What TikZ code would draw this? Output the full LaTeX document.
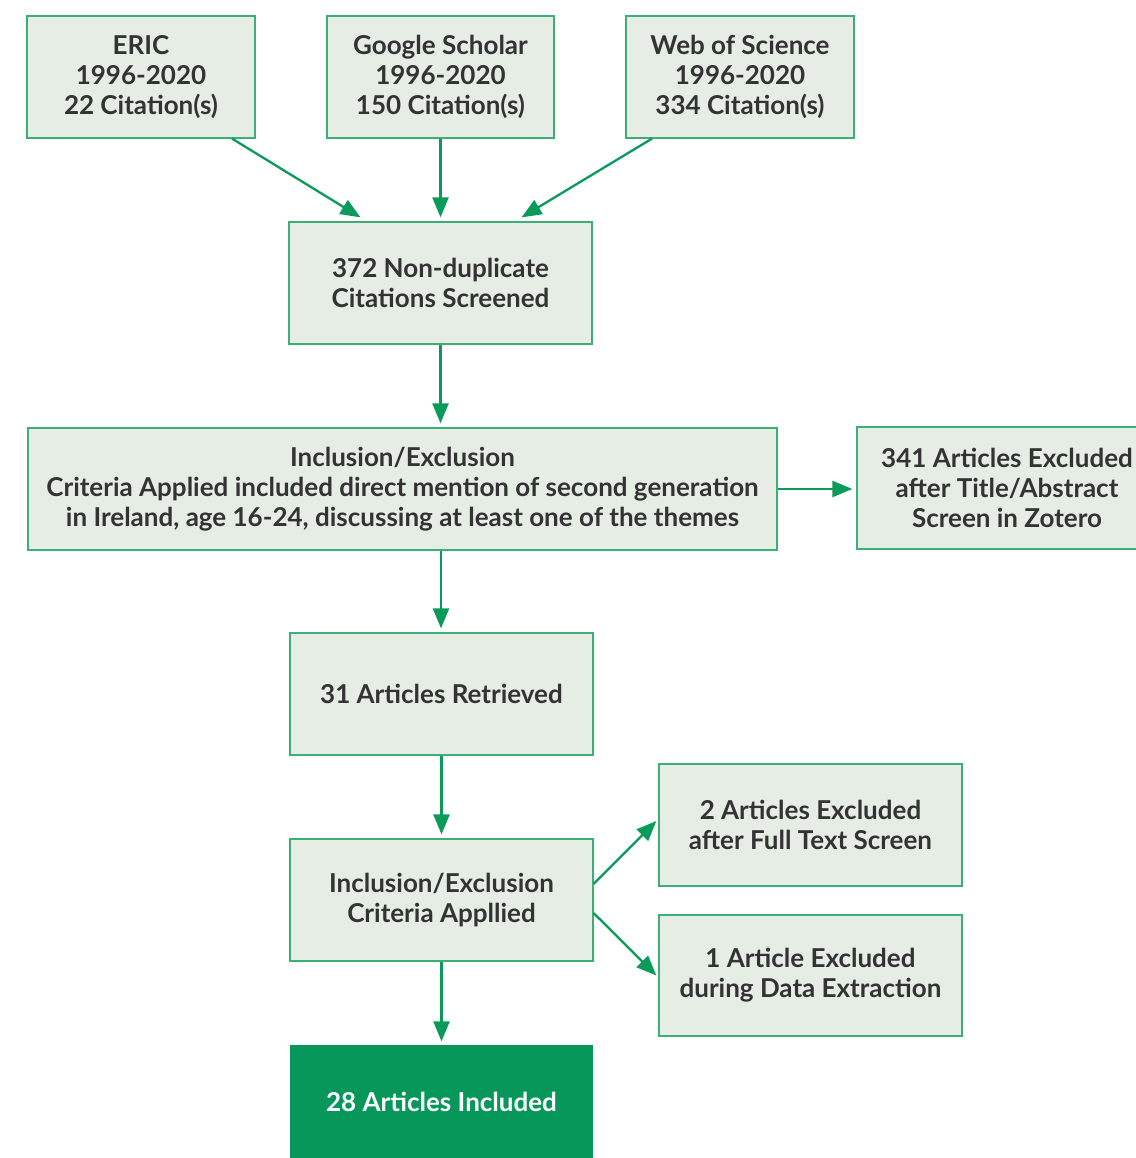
\documentclass[tikz,border=0pt]{standalone}
\usepackage{fontspec}
\setmainfont{Lato}
\usetikzlibrary{arrows.meta,calc}
\definecolor{boxfill}{HTML}{E5EDE5}
\definecolor{boxline}{HTML}{3DAE75}
\definecolor{arrowgreen}{HTML}{0A9A5A}
\definecolor{darkfill}{HTML}{08975A}
\definecolor{txt}{HTML}{333333}
\begin{document}
\begin{tikzpicture}[x=1pt,y=-1pt,
  box/.style={draw=boxline,fill=boxfill,line width=1.2pt,inner sep=0pt,align=center,
    text=txt,font=\fontsize{26}{30}\selectfont\bfseries},
  arr/.style={draw=arrowgreen,line width=2.3pt,-{Triangle[length=20pt,width=16pt]}}]
\useasboundingbox (0,0) rectangle (1135,1158);
\node[box,minimum width=228pt,minimum height=122pt] (eric) at (141,77) {ERIC\\1996-2020\\22 Citation(s)};
\node[box,minimum width=227pt,minimum height=122pt] (gs) at (440.5,77) {Google Scholar\\1996-2020\\150 Citation(s)};
\node[box,minimum width=228pt,minimum height=122pt] (wos) at (740,77) {Web of Science\\1996-2020\\334 Citation(s)};
\node[box,minimum width=303pt,minimum height=122pt] (scr) at (440.5,283) {372 Non-duplicate\\Citations Screened};
\node[box,minimum width=749pt,minimum height=122pt] (incl) at (402.5,489) {Inclusion/Exclusion\\Criteria Applied included direct mention of second generation\\in Ireland, age 16-24, discussing at least one of the themes};
\node[box,minimum width=300pt,minimum height=122pt] (exc1) at (1007,488) {341 Articles Excluded\\after Title/Abstract\\Screen in Zotero};
\node[box,minimum width=303pt,minimum height=122pt] (ret) at (441.5,694) {31 Articles Retrieved};
\node[box,minimum width=303pt,minimum height=122pt] (incl2) at (441.5,900) {Inclusion/Exclusion\\Criteria Appllied};
\node[box,minimum width=303pt,minimum height=122pt] (exc2) at (810.5,825) {2 Articles Excluded\\after Full Text Screen};
\node[box,minimum width=303pt,minimum height=121pt] (exc3) at (810.5,975.5) {1 Article Excluded\\during Data Extraction};
\node[box,draw=darkfill,fill=darkfill,text=white,minimum width=301pt,minimum height=112pt] (inc) at (441.5,1102) {28 Articles Included};
\draw[arr] ($(eric.south)+(91,0)$) -- ($(scr.north)+(-80,-4)$);
\draw[arr] (gs.south) -- ($(scr.north)+(0,-4)$);
\draw[arr] ($(wos.south)+(-88,0)$) -- ($(scr.north)+(81,-4)$);
\draw[arr] (scr.south) -- ($(incl.north)+(38,-4)$);
\draw[arr] (incl.east) -- ($(exc1.west)+(-4,1)$);
\draw[arr] ($(incl.south)+(38.5,0)$) -- ($(ret.north)+(-0.5,-4)$);
\draw[arr] (ret.south) -- ($(incl2.north)+(0,-4)$);
\draw[arr] ($(incl2.east)+(0,-16)$) -- ($(exc2.west)+(-2,-4)$);
\draw[arr] ($(incl2.east)+(0,13)$) -- ($(exc3.west)+(-2,0)$);
\draw[arr] (incl2.south) -- ($(inc.north)+(0,-4)$);
\end{tikzpicture}
\end{document}
